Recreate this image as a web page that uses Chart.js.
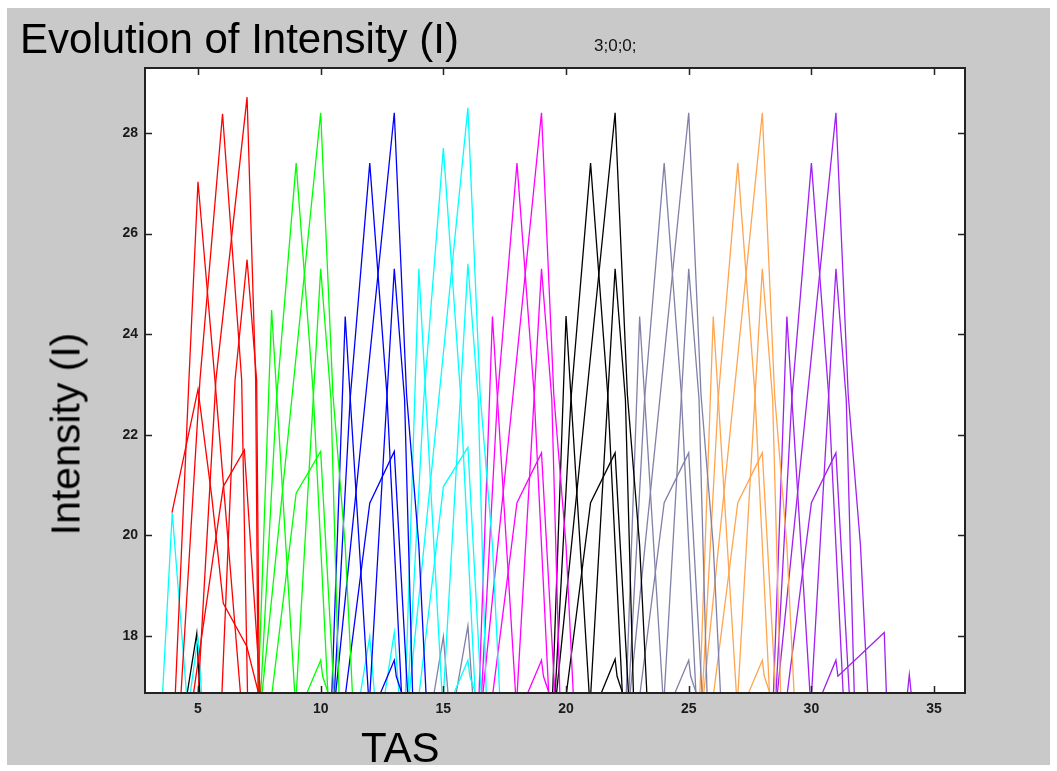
<!DOCTYPE html>
<html>
<head>
<meta charset="utf-8">
<script src="https://cdn.jsdelivr.net/npm/chart.js@4.4.1/dist/chart.umd.min.js"></script>
<style>
  html, body { margin: 0; padding: 0; background: #ffffff; }
  #panel { position: absolute; left: 7px; top: 8px; width: 1043px; height: 757px; background: #c9c9c9; }
  #intensityChart { position: absolute; left: 0; top: 0; }
  .lbl { position: absolute; font-family: "Liberation Sans", Arial, sans-serif; color: #000; white-space: nowrap; line-height: 1; }
  #title { left: 20px; top: 18px; font-size: 42px; }
  #runTag { left: 594px; top: 37px; font-size: 17px; color: #111; }
  #xTitle { left: 361px; top: 727px; font-size: 42px; }
  #yTitle { left: 66px; top: 434px; font-size: 41px; transform: translate(-50%, -50%) rotate(-90deg); }
</style>
</head>
<body>
<div id="panel"></div>
<canvas id="intensityChart" width="1057" height="771"></canvas>
<div class="lbl" id="title">Evolution of Intensity (I)</div>
<div class="lbl" id="runTag">3;0;0;</div>
<div class="lbl" id="xTitle">TAS</div>
<div class="lbl" id="yTitle">Intensity (I)</div>
<script>
// axis ticks
const tasTicks = [5, 10, 15, 20, 25, 30, 35];
const intensityTicks = [18, 20, 22, 24, 26, 28];

// each entry is one trace: [TAS, intensity] pairs
const redLines = [
    [[4.07,16.8],[4.63,23.09],[5,27.03],[5.69,23.09],[6.74,16.8]],
    [[4.3,16.8],[5.08,23.09],[6,28.38],[6.78,23.09],[7.02,16.8]],
    [[5.0,16.8],[5.73,23.09],[7,28.71],[7.35,23.09],[7.45,16.8]],
    [[5.97,16.8],[6.51,23.09],[7,25.48],[7.39,23.09],[7.5,16.8]],
    [[4.8,16.8],[6.03,20.97],[6.89,21.7],[7.55,16.8]],
    [[3.94,20.45],[5,22.9],[5.56,20.77],[6.03,18.65],[6.99,17.79],[7.5,16.8]]
];
const greenLines = [
    [[7.45,16.8],[8,24.48],[8.95,16.8]],
    [[7.55,16.8],[8.2,22.7],[9,27.4],[9.7,22.8],[10.3,16.8]],
    [[7.6,16.8],[10,28.4],[10.5,22.8],[11,19.8],[11.3,16.8]],
    [[9.0,16.8],[10,25.3],[10.42,22.7],[10.75,16.8]],
    [[8.0,16.8],[9,20.84],[10,21.67],[10.55,16.8]],
    [[9.38,16.8],[10,17.52],[10.08,17.2],[10.35,16.8]]
];
const blueLines = [
    [[10.45,16.8],[11,24.35],[11.95,16.8]],
    [[10.55,16.8],[11.2,22.7],[12,27.4],[12.7,22.8],[13.3,16.8]],
    [[10.6,16.8],[13,28.4],[13.5,22.8],[14,19.8],[14.3,16.8]],
    [[12.0,16.8],[13,25.3],[13.42,22.7],[13.75,16.8]],
    [[11.0,16.8],[12,20.64],[13,21.67],[13.55,16.8]],
    [[12.38,16.8],[13,17.52],[13.08,17.2],[13.35,16.8]]
];
const cyanLines = [
    [[13.45,16.8],[14,25.3],[14.95,16.8]],
    [[13.55,16.8],[14.2,22.7],[15,27.7],[15.7,22.8],[16.3,16.8]],
    [[13.6,16.8],[16,28.5],[16.5,22.8],[17,19.8],[17.3,16.8]],
    [[15.0,16.8],[16,25.4],[16.42,22.7],[16.75,16.8]],
    [[14.0,16.8],[15,20.97],[16,21.75],[16.55,16.8]],
    [[15.38,16.8],[16,17.52],[16.08,17.2],[16.35,16.8]],
    [[3.55,16.8],[3.95,20.45],[4.54,16.8]],
    [[4.67,16.8],[5,17.99],[5.15,16.8]],
    [[11.6,16.8],[12,17.99],[12.2,16.8]],
    [[12.6,16.8],[13,18.07],[13.2,16.8]]
];
const magentaLines = [
    [[16.45,16.8],[17,24.35],[17.95,16.8]],
    [[16.55,16.8],[17.2,22.7],[18,27.4],[18.7,22.8],[19.3,16.8]],
    [[16.6,16.8],[19,28.4],[19.5,22.8],[20,19.8],[20.3,16.8]],
    [[18.0,16.8],[19,25.3],[19.42,22.7],[19.75,16.8]],
    [[17.0,16.8],[18,20.65],[19,21.64],[19.55,16.8]],
    [[18.38,16.8],[19,17.52],[19.08,17.2],[19.35,16.8]]
];
const blackLines = [
    [[19.45,16.8],[20,24.36],[20.95,16.8]],
    [[19.55,16.8],[20.2,22.7],[21,27.4],[21.7,22.8],[22.3,16.8]],
    [[19.6,16.8],[22,28.4],[22.5,22.8],[23,19.8],[23.3,16.8]],
    [[21.0,16.8],[22,25.3],[22.42,22.7],[22.75,16.8]],
    [[20.0,16.8],[21,20.65],[22,21.64],[22.55,16.8]],
    [[21.38,16.8],[22,17.54],[22.08,17.2],[22.35,16.8]],
    [[4.54,16.8],[4.95,18.05],[5.08,16.8]]
];
const grayLines = [
    [[22.45,16.8],[23,24.35],[23.95,16.8]],
    [[22.55,16.8],[23.2,22.7],[24,27.4],[24.7,22.8],[25.3,16.8]],
    [[22.6,16.8],[25,28.4],[25.5,22.8],[26,19.8],[26.3,16.8]],
    [[24.0,16.8],[25,25.3],[25.42,22.7],[25.75,16.8]],
    [[23.0,16.8],[24,20.65],[25,21.64],[25.55,16.8]],
    [[24.38,16.8],[25,17.52],[25.08,17.2],[25.35,16.8]],
    [[14.6,16.8],[15,17.99],[15.2,16.8]],
    [[15.5,16.8],[16,18.2],[16.2,16.8]]
];
const orangeLines = [
    [[25.45,16.8],[26,24.35],[26.95,16.8]],
    [[25.55,16.8],[26.2,22.7],[27,27.4],[27.7,22.8],[28.3,16.8]],
    [[25.6,16.8],[28,28.4],[28.5,22.8],[29,19.8],[29.3,16.8]],
    [[27.0,16.8],[28,25.3],[28.42,22.7],[28.75,16.8]],
    [[26.0,16.8],[27,20.65],[28,21.64],[28.55,16.8]],
    [[27.38,16.8],[28,17.52],[28.08,17.2],[28.35,16.8]]
];
const purpleLines = [
    [[28.45,16.8],[29,24.35],[29.95,16.8]],
    [[28.55,16.8],[29.2,22.7],[30,27.4],[30.7,22.8],[31.3,16.8]],
    [[28.6,16.8],[31,28.4],[31.5,22.8],[32,19.8],[32.3,16.8]],
    [[30.0,16.8],[31,25.3],[31.42,22.7],[31.75,16.8]],
    [[29.0,16.8],[30,20.65],[31,21.64],[31.55,16.8]],
    [[30.39,16.8],[31,17.52],[31.08,17.2],[32.97,18.07],[33.06,16.8]],
    [[33.9,16.8],[33.99,17.23],[34.08,16.8]]
];

const groups = [
    { lines: redLines, color: '#ff0000' },
    { lines: greenLines, color: '#00ff00' },
    { lines: blueLines, color: '#0000ff' },
    { lines: cyanLines, color: '#00ffff' },
    { lines: magentaLines, color: '#ff00ff' },
    { lines: blackLines, color: '#000000' },
    { lines: grayLines, color: '#8080a8' },
    { lines: orangeLines, color: '#ffa54f' },
    { lines: purpleLines, color: '#a020f0' }
];

const datasets = [];
groups.forEach(g => {
    g.lines.forEach(pts => {
        datasets.push({
            data: pts.map(p => ({ x: p[0], y: p[1] })),
            borderColor: g.color,
            borderWidth: 1.3,
            pointRadius: 0,
            tension: 0,
            fill: false
        });
    });
});

// white plot box, dark frame and inward ticks on all four sides
const frameTicks = {
    id: 'frameTicks',
    beforeDraw(chart) {
        const { ctx, chartArea: a } = chart;
        ctx.save();
        ctx.fillStyle = '#ffffff';
        ctx.fillRect(a.left, a.top, a.right - a.left, a.bottom - a.top);
        ctx.restore();
    },
    afterDraw(chart) {
        const { ctx, chartArea: a, scales } = chart;
        ctx.save();
        ctx.strokeStyle = '#222';
        ctx.lineWidth = 1.5;
        ctx.beginPath();
        tasTicks.forEach(v => {
            const px = Math.round(scales.x.getPixelForValue(v)) + 0.5;
            ctx.moveTo(px, a.bottom); ctx.lineTo(px, a.bottom - 7);
            ctx.moveTo(px, a.top); ctx.lineTo(px, a.top + 7);
        });
        intensityTicks.forEach(v => {
            const py = Math.round(scales.y.getPixelForValue(v)) + 0.5;
            ctx.moveTo(a.left, py); ctx.lineTo(a.left + 7, py);
            ctx.moveTo(a.right, py); ctx.lineTo(a.right - 7, py);
        });
        ctx.stroke();
        ctx.lineWidth = 2;
        ctx.strokeStyle = '#222';
        ctx.strokeRect(a.left, a.top, a.right - a.left, a.bottom - a.top);
        ctx.restore();
    }
};

const tickFont = { family: '"Liberation Sans", Arial, sans-serif', size: 14, weight: 'bold' };

new Chart(document.getElementById('intensityChart'), {
    type: 'line',
    data: { datasets: datasets },
    options: {
        responsive: false,
        animation: false,
        devicePixelRatio: 1,
        layout: { padding: { top: 68, right: 92, left: 0, bottom: 0 } },
        plugins: { legend: { display: false }, tooltip: { enabled: false } },
        scales: {
            x: {
                type: 'linear',
                min: 2.84,
                max: 36.26,
                grid: { display: false, drawTicks: false },
                border: { display: false },
                afterBuildTicks: s => { s.ticks = tasTicks.map(v => ({ value: v })); },
                afterFit: s => { s.height = 78; },
                ticks: { color: '#1a1a1a', font: tickFont, padding: 8, maxRotation: 0 }
            },
            y: {
                type: 'linear',
                min: 16.867,
                max: 29.29,
                grid: { display: false, drawTicks: false },
                border: { display: false },
                afterBuildTicks: s => { s.ticks = intensityTicks.map(v => ({ value: v })); },
                afterFit: s => { s.width = 145; },
                ticks: { color: '#1a1a1a', font: tickFont, padding: 7 }
            }
        }
    },
    plugins: [frameTicks]
});
</script>
</body>
</html>
